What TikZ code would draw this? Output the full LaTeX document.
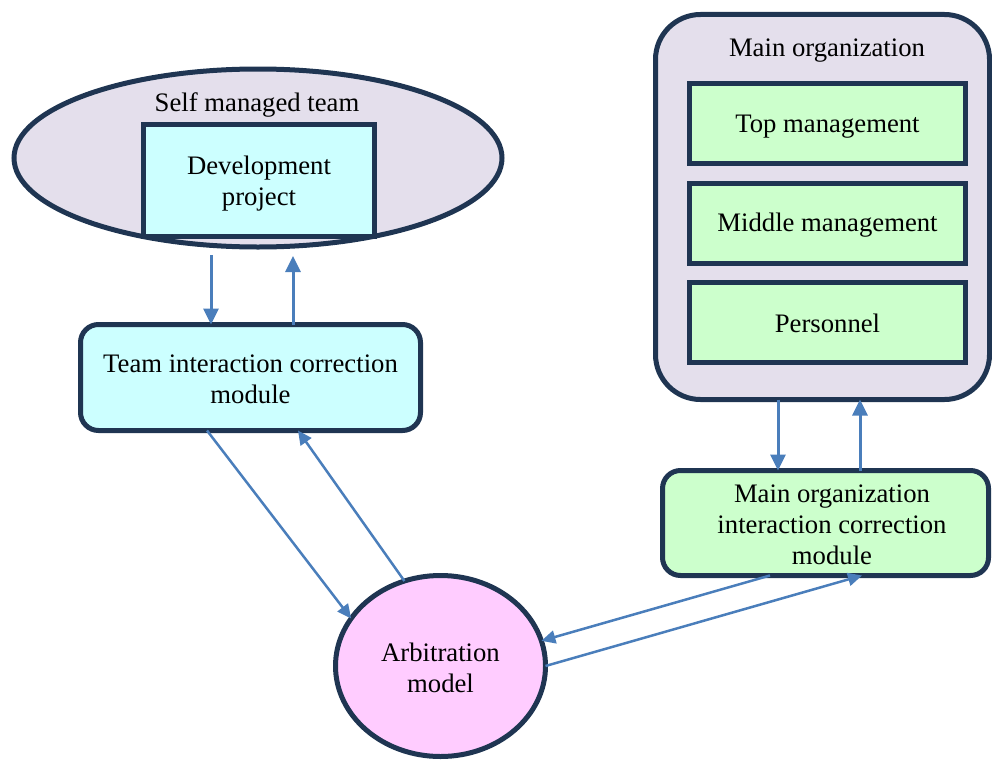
\documentclass[tikz,border=0pt]{standalone}
\usepackage{fontspec}
\setmainfont{Liberation Serif}
\usetikzlibrary{shapes.geometric,arrows.meta,calc}
\definecolor{edge}{HTML}{1F3552}
\definecolor{lav}{HTML}{E4DFEC}
\definecolor{cyanfill}{HTML}{CCFFFF}
\definecolor{greenfill}{HTML}{CCFFCC}
\definecolor{pinkfill}{HTML}{FFCCFF}
\definecolor{arrowblue}{HTML}{4A7EBB}
\begin{document}
\begin{tikzpicture}[x=1pt,y=-1pt,
  every node/.style={font=\fontsize{26.7}{31}\selectfont, align=center, inner sep=0pt, outer sep=0pt},
  sqbox/.style={draw=edge, line width=5pt, rectangle},
  rbox/.style={draw=edge, line width=5pt, rectangle, rounded corners=18pt},
  ellnode/.style={draw=edge, line width=5pt, ellipse},
  arr/.style={draw=arrowblue, line width=3pt, -{Triangle[length=16pt,width=15pt]}},
  darr/.style={draw=arrowblue, line width=2.5pt, -{Triangle[length=14pt,width=13pt]}}]
\useasboundingbox (0,0) rectangle (992,760);

% Self managed team
\node[ellnode, fill=lav, minimum width=488pt, minimum height=178pt] (selfteam) at (258,158) {};
\node (selflbl) at (257,105) {Self managed team};
\node[sqbox, fill=cyanfill, minimum width=231pt, minimum height=112pt] (dev) at (259,180.5) {};
\node (devlbl) at (259,183.5) {Development\\project};

% Team interaction correction module
\node[rbox, fill=cyanfill, minimum width=340pt, minimum height=106pt] (team) at (250.5,377.5) {};
\node (teamlbl) at (250.5,379) {Team interaction correction\\module};

% Main organization
\node[draw=edge, line width=5pt, rectangle, rounded corners=45pt, fill=lav, minimum width=334pt, minimum height=385pt] (mainorg) at (822.5,207) {};
\node (mainlbl) at (827,51) {Main organization};
\node[sqbox, fill=greenfill, minimum width=276pt, minimum height=80pt] (top) at (827.5,123) {};
\node (toplbl) at (827.5,126.5) {Top management};
\node[sqbox, fill=greenfill, minimum width=276pt, minimum height=80pt] (mid) at (827.5,223) {};
\node (midlbl) at (827.5,225) {Middle management};
\node[sqbox, fill=greenfill, minimum width=276pt, minimum height=80pt] (pers) at (827.5,322.5) {};
\node (perslbl) at (827.5,323.5) {Personnel};

% Main organization interaction correction module
\node[rbox, fill=greenfill, minimum width=326pt, minimum height=105pt] (mainmod) at (825.5,523) {};
\node (mainmodlbl) at (832,525) {Main organization\\interaction correction\\module};

% Arbitration model
\node[ellnode, fill=pinkfill, minimum width=210pt, minimum height=181pt] (arb) at (440.5,666) {};
\node (arblbl) at (440.5,667.5) {Arbitration\\model};

% x positions for vertical arrows
\coordinate (xa) at (211,0);
\coordinate (xb) at (293,0);
\coordinate (xc) at (778,0);
\coordinate (xd) at (860,0);
\coordinate (xe) at (207,0);
\coordinate (xf) at (298,0);
\coordinate (xg) at (770,0);
\coordinate (xh) at (862,0);

% self team <-> team module
\draw[arr] ($(selfteam.south -| xa)+(0,8)$) -- (team.north -| xa);
\draw[arr] (team.north -| xb) -- ($(selfteam.south -| xb)+(0,9)$);

% main org <-> main module
\draw[arr] (mainorg.south -| xc) -- (mainmod.north -| xc);
\draw[arr] (mainmod.north -| xd) -- (mainorg.south -| xd);

% team module <-> arbitration
\draw[darr] (team.south -| xe) -- (arb.152);
\draw[darr] (arb.113) -- (team.south -| xf);

% main module <-> arbitration
\draw[darr] (mainmod.south -| xg) -- (arb.14);
\draw[darr] (arb.0) -- (mainmod.south -| xh);
\end{tikzpicture}
\end{document}
